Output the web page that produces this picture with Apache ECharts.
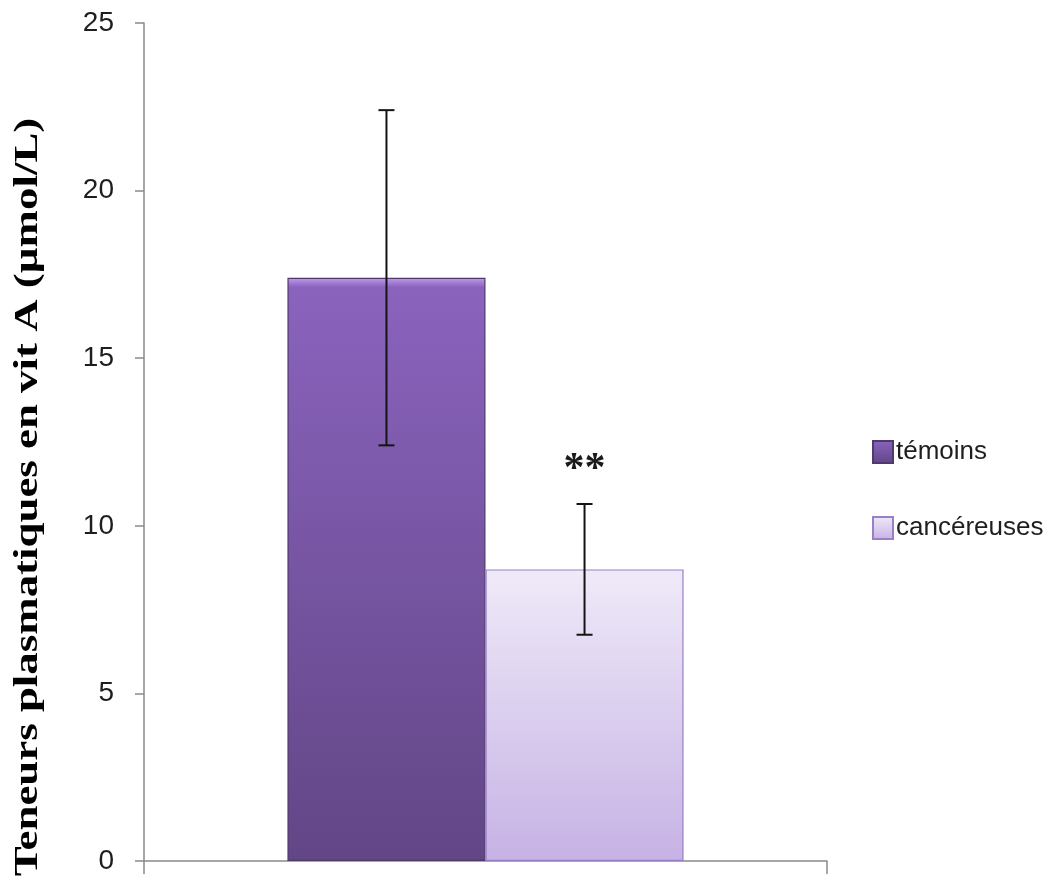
<!DOCTYPE html>
<html>
<head>
<meta charset="utf-8">
<style>
  html, body { margin: 0; padding: 0; background: #ffffff; }
  #chart { width: 1061px; height: 883px; }
</style>
<script src="https://cdn.jsdelivr.net/npm/echarts@6/dist/echarts.min.js"></script>
</head>
<body>
<div id="chart"></div>
<script>
// Plasma vitamin A levels: controls vs. cancer patients (mean ± SD)
const categories = [''];
const groups = ['témoins', 'cancéreuses'];
const means = [17.4, 8.7];
const sds = [5.0, 1.95];
const significance = ['', '**'];
const yTicks = { min: 0, max: 25, interval: 5 };
const yTitle = 'Teneurs plasmatiques en vit A (µmol/L)';

const sans = "'Liberation Sans Narrow', 'Liberation Sans', Arial, sans-serif";
const serif = "'Liberation Serif', 'Times New Roman', serif";

const barCategoryGap = 0.42;

const fills = [
  new echarts.graphic.LinearGradient(0, 0, 0, 1, [
    { offset: 0, color: '#c29cee' },
    { offset: 0.016, color: '#8a63bd' },
    { offset: 1, color: '#624686' }
  ]),
  new echarts.graphic.LinearGradient(0, 0, 0, 1, [
    { offset: 0, color: '#efeaf8' },
    { offset: 1, color: '#c6b2e5' }
  ])
];
const borders = ['#4e3a6c', '#9a7fc6'];

const chart = echarts.init(document.getElementById('chart'), null, { renderer: 'canvas' });

// bar series, one per group
const barSeries = groups.map((g, i) => ({
  name: g,
  type: 'bar',
  data: [means[i]],
  barGap: '0%',
  barCategoryGap: (barCategoryGap * 100) + '%',
  itemStyle: { color: fills[i], borderColor: borders[i], borderWidth: 1.2 },
  emphasis: { disabled: true },
  z: 2
}));

// error bars (± SD) with optional significance mark above
const errorSeries = groups.map((g, i) => ({
  type: 'custom',
  name: g + '_sd',
  data: [[0, means[i] - sds[i], means[i] + sds[i]]],
  encode: { x: 0, y: [1, 2] },
  z: 5,
  silent: true,
  renderItem: function (params, api) {
    const catW = api.size([1, 0])[0];
    const barW = catW * (1 - barCategoryGap) / groups.length;
    const offset = (i - (groups.length - 1) / 2) * barW;
    const lo = api.coord([api.value(0), api.value(1)]);
    const hi = api.coord([api.value(0), api.value(2)]);
    const x = lo[0] + offset;
    const cap = 8;
    const style = { stroke: '#141414', lineWidth: 2 };
    const children = [
      { type: 'line', shape: { x1: x, y1: hi[1], x2: x, y2: lo[1] }, style },
      { type: 'line', shape: { x1: x - cap, y1: hi[1], x2: x + cap, y2: hi[1] }, style },
      { type: 'line', shape: { x1: x - cap, y1: lo[1], x2: x + cap, y2: lo[1] }, style }
    ];
    if (significance[i]) {
      children.push({
        type: 'text',
        style: {
          text: significance[i],
          x: x, y: hi[1] - 34,
          align: 'center', verticalAlign: 'middle',
          font: 'bold 42px ' + serif,
          fill: '#1a1a1a'
        }
      });
    }
    return { type: 'group', children };
  }
}));

chart.setOption({
  animation: false,
  backgroundColor: '#ffffff',
  grid: { left: 144, right: 234, top: 23, bottom: 22, containLabel: false },
  xAxis: {
    type: 'category',
    data: categories,
    axisLine: { show: true, lineStyle: { color: '#8a8a8a', width: 1.5 } },
    axisTick: { show: true, length: 13, interval: 0, lineStyle: { color: '#8a8a8a', width: 1.5 } },
    axisLabel: { show: false },
    splitLine: { show: false }
  },
  yAxis: {
    type: 'value',
    min: yTicks.min, max: yTicks.max, interval: yTicks.interval,
    axisLine: { show: true, lineStyle: { color: '#8a8a8a', width: 1.5 } },
    axisTick: { show: true, length: 9, lineStyle: { color: '#8a8a8a', width: 1.5 } },
    axisLabel: { margin: 30, fontSize: 28, fontFamily: sans, color: '#1e1e1e' },
    splitLine: { show: false }
  },
  legend: {
    data: groups,
    orient: 'vertical',
    left: 872,
    top: 439,
    padding: 0,
    itemWidth: 20,
    itemHeight: 22,
    itemGap: 50,
    icon: 'rect',
    selectedMode: false,
    textStyle: { fontSize: 26, fontFamily: sans, color: '#1e1e1e', padding: [0, 0, 0, -2] }
  },
  graphic: [{
    type: 'text',
    x: 28,
    y: 497,
    rotation: Math.PI / 2,
    scaleX: 1.32,
    silent: true,
    style: {
      text: yTitle,
      align: 'center',
      verticalAlign: 'middle',
      font: 'bold 34px ' + serif,
      fill: '#000000'
    }
  }],
  series: barSeries.concat(errorSeries)
});
</script>
</body>
</html>
